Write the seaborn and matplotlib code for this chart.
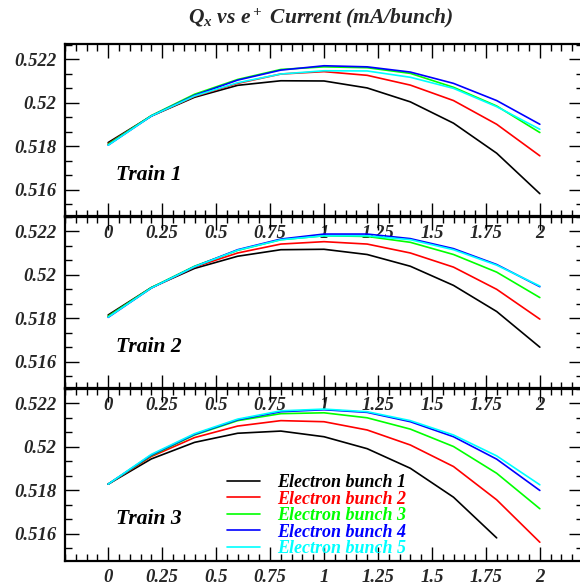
import matplotlib
matplotlib.use("Agg")
import matplotlib.pyplot as plt
from matplotlib.ticker import MultipleLocator, AutoMinorLocator, FuncFormatter
import seaborn as sns
import pandas as pd
import numpy as np

# e+ current (mA/bunch)
current = [0.0, 0.2, 0.4, 0.6, 0.8, 1.0, 1.2, 1.4, 1.6, 1.8, 2.0]
bunches = ["Electron bunch 1", "Electron bunch 2", "Electron bunch 3",
           "Electron bunch 4", "Electron bunch 5"]
colors = ["#000000", "#ff0000", "#00ff00", "#0000ff", "#00ffff"]
trains = ["Train 1", "Train 2", "Train 3"]

# Qx per electron bunch, train 1
train1 = [
    [0.51818, 0.51940, 0.52026, 0.52081, 0.52102, 0.52101, 0.52069, 0.52005, 0.51907, 0.51769, 0.51583],
    [0.51812, 0.51940, 0.52030, 0.52090, 0.52133, 0.52144, 0.52127, 0.52082, 0.52011, 0.51902, 0.51757],
    [0.51810, 0.51942, 0.52040, 0.52108, 0.52154, 0.52166, 0.52162, 0.52136, 0.52072, 0.51986, 0.51864],
    [0.51806, 0.51940, 0.52035, 0.52105, 0.52151, 0.52171, 0.52166, 0.52142, 0.52090, 0.52011, 0.51902],
    [0.51806, 0.51940, 0.52032, 0.52093, 0.52133, 0.52148, 0.52147, 0.52118, 0.52067, 0.51983, 0.51879],
]
# train 2
train2 = [
    [0.51816, 0.51942, 0.52030, 0.52086, 0.52116, 0.52118, 0.52094, 0.52040, 0.51952, 0.51832, 0.51668],
    [0.51810, 0.51940, 0.52036, 0.52101, 0.52142, 0.52153, 0.52142, 0.52101, 0.52036, 0.51934, 0.51797],
    [0.51810, 0.51942, 0.52040, 0.52113, 0.52162, 0.52180, 0.52177, 0.52150, 0.52094, 0.52013, 0.51896],
    [0.51805, 0.51940, 0.52038, 0.52116, 0.52165, 0.52188, 0.52188, 0.52167, 0.52121, 0.52048, 0.51946],
    [0.51806, 0.51940, 0.52038, 0.52114, 0.52162, 0.52180, 0.52180, 0.52162, 0.52116, 0.52045, 0.51949],
]
# train 3 (bunch 1 has no point at 2.0)
train3 = [
    [0.51829, 0.51945, 0.52021, 0.52063, 0.52073, 0.52047, 0.51992, 0.51902, 0.51769, 0.51582, np.nan],
    [0.51829, 0.51956, 0.52043, 0.52096, 0.52121, 0.52116, 0.52078, 0.52009, 0.51910, 0.51757, 0.51562],
    [0.51829, 0.51960, 0.52055, 0.52121, 0.52153, 0.52157, 0.52134, 0.52082, 0.52002, 0.51879, 0.51716],
    [0.51829, 0.51963, 0.52058, 0.52125, 0.52162, 0.52171, 0.52159, 0.52116, 0.52047, 0.51944, 0.51800],
    [0.51829, 0.51966, 0.52061, 0.52128, 0.52166, 0.52174, 0.52162, 0.52121, 0.52055, 0.51959, 0.51826],
]

sns.set_theme(style="white")
plt.rcParams["font.family"] = ["Liberation Serif", "DejaVu Serif"]
plt.rcParams["font.weight"] = "bold"
plt.rcParams["font.style"] = "italic"
plt.rcParams["mathtext.fontset"] = "custom"
plt.rcParams["mathtext.rm"] = "Liberation Serif:bold:italic"
plt.rcParams["mathtext.it"] = "Liberation Serif:bold:italic"
plt.rcParams["mathtext.bf"] = "Liberation Serif:bold:italic"

fig = plt.figure(figsize=(5.8, 5.86), dpi=100)
fig.patch.set_facecolor("white")

left, width = 65 / 580, 518 / 580
tops = [44, 216, 388]
h = 172.5

fmt = FuncFormatter(lambda v, p: "%g" % round(v, 4))

axes = []
for i, data in enumerate([train1, train2, train3]):
    bottom = 1 - (tops[i] + h) / 586
    ax = fig.add_axes([left, bottom, width, h / 586])
    ax.set_facecolor("none")
    rows = []
    for b, vals in zip(bunches, data):
        for x, y in zip(current, vals):
            rows.append({"current": x, "Qx": y, "bunch": b})
    df = pd.DataFrame(rows).dropna()
    sns.lineplot(data=df, x="current", y="Qx", hue="bunch", hue_order=bunches,
                 palette=colors, estimator=None, linewidth=1.2, ax=ax,
                 legend=(i == 2))
    ax.set_xlim(-0.2, 2.2)
    ax.set_ylim(0.51478, 0.52271)
    ax.set_xlabel("")
    ax.set_ylabel("")
    ax.xaxis.set_major_locator(MultipleLocator(0.25))
    ax.xaxis.set_minor_locator(MultipleLocator(0.05))
    ax.yaxis.set_major_locator(MultipleLocator(0.002))
    ax.yaxis.set_minor_locator(AutoMinorLocator(3))
    ax.xaxis.set_major_formatter(fmt)
    ax.yaxis.set_major_formatter(fmt)
    ax.tick_params(which="both", direction="in", top=True, right=True,
                   bottom=True, left=True, color="black", width=1.0)
    ax.tick_params(which="major", length=10, labelsize=13.5)
    ax.tick_params(which="minor", length=5)
    ax.tick_params(axis="x", which="major", pad=6)
    ax.tick_params(axis="y", which="major", pad=6)
    for s in ax.spines.values():
        s.set_color("black")
        s.set_linewidth(1.6)
    ax.text(0.098, 0.238, trains[i], transform=ax.transAxes, fontsize=15.5,
            ha="left", va="center", color="black")
    axes.append(ax)

ax3 = axes[2]
handles, labels = ax3.get_legend_handles_labels()
leg = ax3.legend(handles, labels, loc="upper left", bbox_to_anchor=(0.312, 0.50),
                 frameon=False, fontsize=13, handlelength=1.85, handletextpad=0.95,
                 labelspacing=-0.03, borderpad=0, borderaxespad=0)
for t, c in zip(leg.get_texts(), colors):
    t.set_color(c)

fig.text(0.554, 1 - 18 / 586, r"$Q_x$ vs $e^+$ Current (mA/bunch)",
         ha="center", va="center", fontsize=15.5)

fig.savefig("out.png", dpi=100, facecolor="white")
